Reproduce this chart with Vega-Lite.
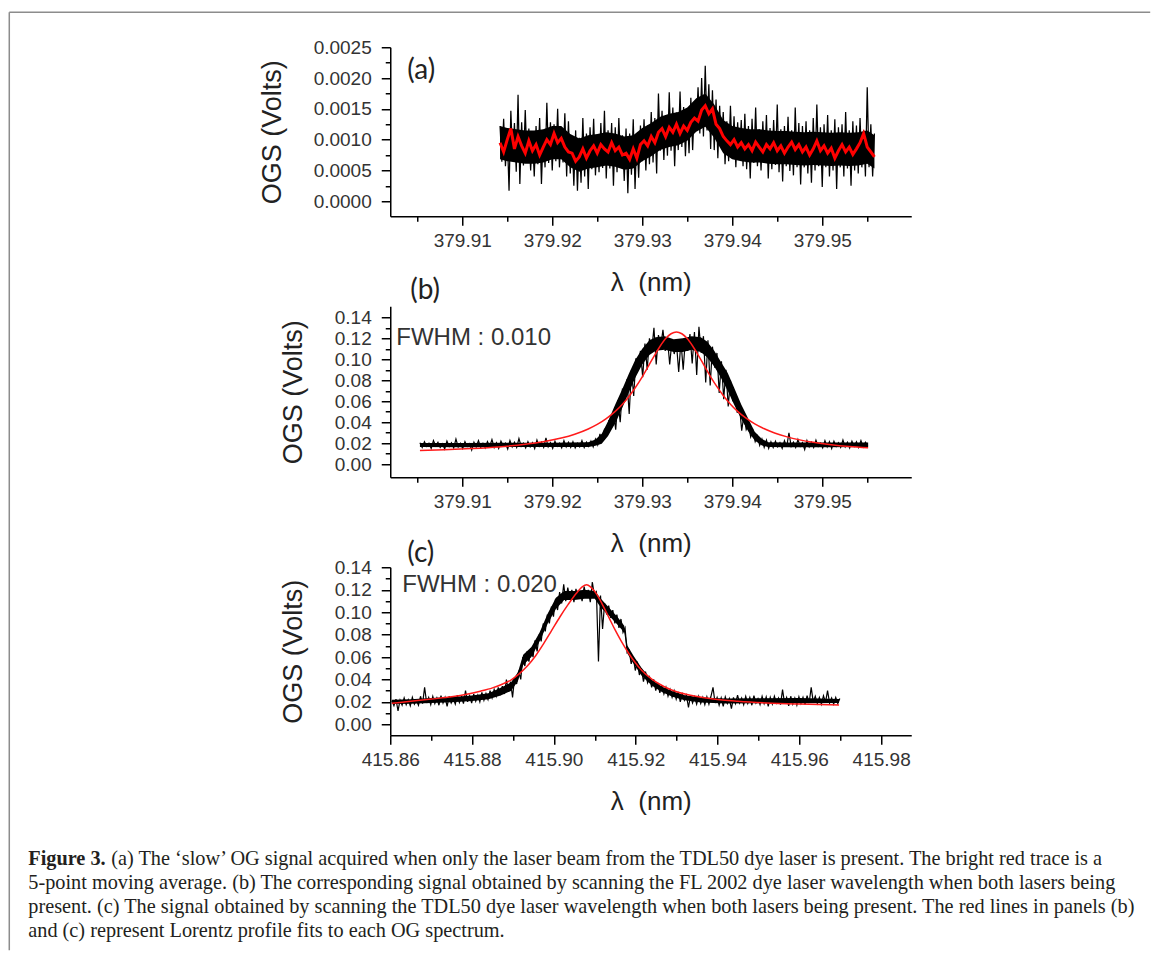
{
"$schema": "https://vega.github.io/schema/vega-lite/v6.json",
"usermeta": {"embedOptions": {"actions": false}},
"padding": {"left": 8.25, "top": 11.25, "right": 0, "bottom": 0},
"background": "white",
"bounds": "flush",
"spacing": 90,
"config": {
 "view": {"stroke": null},
 "axis": {"grid": false, "domainColor": "#000", "domainWidth": 1.5, "tickColor": "#000", "tickWidth": 1.5, "labelFont": "Liberation Sans", "labelFontSize": 19, "labelColor": "#333", "titleFont": "Liberation Sans", "titleFontSize": 27, "titleFontWeight": "normal", "titleColor": "#222", "labelFlush": false, "labelOverlap": false, "labelBound": false, "tickCount": 100},
 "axisX": {"labelPadding": 6, "titlePadding": 19, "titleFontSize": 26},
 "axisY": {"labelPadding": 10, "titlePadding": 27}
},
"datasets": {
"a_raw": [{"x":379.9142,"y":0.00122},{"x":379.9144,"y":0.00064},{"x":379.9146,"y":0.00134},{"x":379.9148,"y":0.00057},{"x":379.915,"y":0.0011},{"x":379.9152,"y":0.00017},{"x":379.9154,"y":0.00147},{"x":379.9156,"y":0.0007},{"x":379.9158,"y":0.00127},{"x":379.916,"y":0.00048},{"x":379.9162,"y":0.00173},{"x":379.9164,"y":0.00028},{"x":379.9166,"y":0.00128},{"x":379.9168,"y":0.00058},{"x":379.917,"y":0.00148},{"x":379.9172,"y":0.00063},{"x":379.9174,"y":0.00118},{"x":379.9176,"y":0.0005},{"x":379.9178,"y":0.00108},{"x":379.918,"y":0.0004},{"x":379.9182,"y":0.00122},{"x":379.9184,"y":0.0006},{"x":379.9186,"y":0.00135},{"x":379.9188,"y":0.00028},{"x":379.919,"y":0.00115},{"x":379.9192,"y":0.00055},{"x":379.9194,"y":0.0016},{"x":379.9196,"y":0.00062},{"x":379.9198,"y":0.00128},{"x":379.92,"y":0.0005},{"x":379.9202,"y":0.00125},{"x":379.9204,"y":0.00065},{"x":379.9206,"y":0.0015},{"x":379.9208,"y":0.00055},{"x":379.921,"y":0.00117},{"x":379.9212,"y":0.00063},{"x":379.9214,"y":0.00143},{"x":379.9216,"y":0.0004},{"x":379.9218,"y":0.0013},{"x":379.922,"y":0.00045},{"x":379.9222,"y":0.00105},{"x":379.9224,"y":0.00025},{"x":379.9226,"y":0.00115},{"x":379.9228,"y":0.00017},{"x":379.923,"y":0.00103},{"x":379.9232,"y":0.0003},{"x":379.9234,"y":0.00135},{"x":379.9236,"y":0.0004},{"x":379.9238,"y":0.0011},{"x":379.924,"y":0.0002},{"x":379.9242,"y":0.0012},{"x":379.9244,"y":0.00052},{"x":379.9246,"y":0.00134},{"x":379.9248,"y":0.00042},{"x":379.925,"y":0.00107},{"x":379.9252,"y":0.00047},{"x":379.9254,"y":0.00127},{"x":379.9256,"y":0.00054},{"x":379.9258,"y":0.00147},{"x":379.926,"y":0.00037},{"x":379.9262,"y":0.00115},{"x":379.9264,"y":0.00053},{"x":379.9266,"y":0.00127},{"x":379.9268,"y":0.00025},{"x":379.927,"y":0.0012},{"x":379.9272,"y":0.00047},{"x":379.9274,"y":0.00135},{"x":379.9276,"y":0.00055},{"x":379.9278,"y":0.00107},{"x":379.928,"y":0.00033},{"x":379.9282,"y":0.00118},{"x":379.9284,"y":0.00013},{"x":379.9286,"y":0.0011},{"x":379.9288,"y":0.00043},{"x":379.929,"y":0.00133},{"x":379.9292,"y":0.0002},{"x":379.9294,"y":0.00108},{"x":379.9296,"y":0.00038},{"x":379.9298,"y":0.00123},{"x":379.93,"y":0.00065},{"x":379.9302,"y":0.00133},{"x":379.9304,"y":0.0005},{"x":379.9306,"y":0.00123},{"x":379.9308,"y":0.0006},{"x":379.931,"y":0.00145},{"x":379.9312,"y":0.00063},{"x":379.9314,"y":0.00135},{"x":379.9316,"y":0.00045},{"x":379.9318,"y":0.00175},{"x":379.932,"y":0.00082},{"x":379.9322,"y":0.00147},{"x":379.9324,"y":0.00067},{"x":379.9326,"y":0.0014},{"x":379.9328,"y":0.00074},{"x":379.933,"y":0.00177},{"x":379.9332,"y":0.00082},{"x":379.9334,"y":0.00152},{"x":379.9336,"y":0.00057},{"x":379.9338,"y":0.00144},{"x":379.934,"y":0.00083},{"x":379.9342,"y":0.00178},{"x":379.9344,"y":0.00088},{"x":379.9346,"y":0.00153},{"x":379.9348,"y":0.00073},{"x":379.935,"y":0.00146},{"x":379.9352,"y":0.00078},{"x":379.9354,"y":0.00168},{"x":379.9356,"y":0.00083},{"x":379.9358,"y":0.00158},{"x":379.936,"y":0.00115},{"x":379.9362,"y":0.00185},{"x":379.9364,"y":0.0011},{"x":379.9366,"y":0.002},{"x":379.9368,"y":0.00105},{"x":379.937,"y":0.0022},{"x":379.9372,"y":0.00115},{"x":379.9374,"y":0.0019},{"x":379.9376,"y":0.00085},{"x":379.9378,"y":0.0018},{"x":379.938,"y":0.00083},{"x":379.9382,"y":0.00165},{"x":379.9384,"y":0.0007},{"x":379.9386,"y":0.00155},{"x":379.9388,"y":0.0009},{"x":379.939,"y":0.00145},{"x":379.9392,"y":0.0006},{"x":379.9394,"y":0.0013},{"x":379.9396,"y":0.00065},{"x":379.9398,"y":0.00155},{"x":379.94,"y":0.0007},{"x":379.9402,"y":0.00138},{"x":379.9404,"y":0.00055},{"x":379.9406,"y":0.00128},{"x":379.9408,"y":0.00068},{"x":379.941,"y":0.00132},{"x":379.9412,"y":0.00057},{"x":379.9414,"y":0.00142},{"x":379.9416,"y":0.00052},{"x":379.9418,"y":0.00122},{"x":379.942,"y":0.00037},{"x":379.9422,"y":0.00134},{"x":379.9424,"y":0.00062},{"x":379.9426,"y":0.00152},{"x":379.9428,"y":0.00057},{"x":379.943,"y":0.00117},{"x":379.9432,"y":0.0005},{"x":379.9434,"y":0.0013},{"x":379.9436,"y":0.00062},{"x":379.9438,"y":0.0014},{"x":379.944,"y":0.00037},{"x":379.9442,"y":0.00119},{"x":379.9444,"y":0.00052},{"x":379.9446,"y":0.00132},{"x":379.9448,"y":0.00059},{"x":379.945,"y":0.00157},{"x":379.9452,"y":0.00047},{"x":379.9454,"y":0.00117},{"x":379.9456,"y":0.00032},{"x":379.9458,"y":0.00122},{"x":379.946,"y":0.00057},{"x":379.9462,"y":0.00137},{"x":379.9464,"y":0.00049},{"x":379.9466,"y":0.00115},{"x":379.9468,"y":0.00042},{"x":379.947,"y":0.00152},{"x":379.9472,"y":0.00055},{"x":379.9474,"y":0.00127},{"x":379.9476,"y":0.00027},{"x":379.9478,"y":0.00122},{"x":379.948,"y":0.00055},{"x":379.9482,"y":0.0013},{"x":379.9484,"y":0.00045},{"x":379.9486,"y":0.00115},{"x":379.9488,"y":0.0003},{"x":379.949,"y":0.00135},{"x":379.9492,"y":0.0005},{"x":379.9494,"y":0.00157},{"x":379.9496,"y":0.00057},{"x":379.9498,"y":0.0012},{"x":379.95,"y":0.00023},{"x":379.9502,"y":0.00125},{"x":379.9504,"y":0.00055},{"x":379.9506,"y":0.0014},{"x":379.9508,"y":0.0004},{"x":379.951,"y":0.00115},{"x":379.9512,"y":0.0005},{"x":379.9514,"y":0.00133},{"x":379.9516,"y":0.0002},{"x":379.9518,"y":0.0012},{"x":379.952,"y":0.00055},{"x":379.9522,"y":0.00125},{"x":379.9524,"y":0.0004},{"x":379.9526,"y":0.00145},{"x":379.9528,"y":0.00053},{"x":379.953,"y":0.00115},{"x":379.9532,"y":0.00025},{"x":379.9534,"y":0.0013},{"x":379.9536,"y":0.0005},{"x":379.9538,"y":0.00123},{"x":379.954,"y":0.00045},{"x":379.9542,"y":0.00135},{"x":379.9544,"y":0.00055},{"x":379.9546,"y":0.00115},{"x":379.9548,"y":0.0004},{"x":379.955,"y":0.00185},{"x":379.9552,"y":0.00055},{"x":379.9554,"y":0.00125},{"x":379.9556,"y":0.0004},{"x":379.9558,"y":0.0011}],
"a_core": [{"x":379.9142,"lo":0.00068,"hi":0.00122},{"x":379.915,"lo":0.00065,"hi":0.00119},{"x":379.916,"lo":0.00063,"hi":0.00117},{"x":379.917,"lo":0.00061,"hi":0.00115},{"x":379.918,"lo":0.00061,"hi":0.00115},{"x":379.919,"lo":0.00063,"hi":0.00117},{"x":379.92,"lo":0.00068,"hi":0.00122},{"x":379.921,"lo":0.00068,"hi":0.00122},{"x":379.922,"lo":0.00055,"hi":0.00109},{"x":379.923,"lo":0.00048,"hi":0.00102},{"x":379.924,"lo":0.00053,"hi":0.00107},{"x":379.925,"lo":0.00055,"hi":0.00109},{"x":379.926,"lo":0.00058,"hi":0.00112},{"x":379.927,"lo":0.00056,"hi":0.0011},{"x":379.928,"lo":0.00051,"hi":0.00105},{"x":379.929,"lo":0.00053,"hi":0.00107},{"x":379.93,"lo":0.00065,"hi":0.00119},{"x":379.931,"lo":0.00073,"hi":0.00127},{"x":379.932,"lo":0.00083,"hi":0.00137},{"x":379.933,"lo":0.00088,"hi":0.00142},{"x":379.934,"lo":0.00091,"hi":0.00145},{"x":379.935,"lo":0.00098,"hi":0.00152},{"x":379.936,"lo":0.00113,"hi":0.00167},{"x":379.937,"lo":0.00121,"hi":0.00175},{"x":379.938,"lo":0.00103,"hi":0.00157},{"x":379.939,"lo":0.00078,"hi":0.00132},{"x":379.94,"lo":0.00068,"hi":0.00122},{"x":379.941,"lo":0.00065,"hi":0.00119},{"x":379.942,"lo":0.00063,"hi":0.00117},{"x":379.943,"lo":0.00063,"hi":0.00117},{"x":379.944,"lo":0.00061,"hi":0.00115},{"x":379.945,"lo":0.0006,"hi":0.00114},{"x":379.946,"lo":0.0006,"hi":0.00114},{"x":379.947,"lo":0.00059,"hi":0.00113},{"x":379.948,"lo":0.00058,"hi":0.00112},{"x":379.949,"lo":0.00059,"hi":0.00113},{"x":379.95,"lo":0.00058,"hi":0.00112},{"x":379.951,"lo":0.00057,"hi":0.00111},{"x":379.952,"lo":0.00058,"hi":0.00112},{"x":379.953,"lo":0.00057,"hi":0.00111},{"x":379.954,"lo":0.00058,"hi":0.00112},{"x":379.955,"lo":0.00061,"hi":0.00115},{"x":379.9558,"lo":0.00053,"hi":0.00107}],
"a_avg": [{"x":379.9142,"y":0.00095},{"x":379.9146,"y":0.0008},{"x":379.915,"y":0.001},{"x":379.9154,"y":0.00118},{"x":379.9158,"y":0.00085},{"x":379.9162,"y":0.00105},{"x":379.9166,"y":0.0009},{"x":379.917,"y":0.00078},{"x":379.9174,"y":0.00098},{"x":379.9178,"y":0.00082},{"x":379.9182,"y":0.00092},{"x":379.9186,"y":0.00075},{"x":379.919,"y":0.00088},{"x":379.9194,"y":0.001},{"x":379.9198,"y":0.00092},{"x":379.9202,"y":0.0011},{"x":379.9206,"y":0.00095},{"x":379.921,"y":0.00102},{"x":379.9214,"y":0.00088},{"x":379.9218,"y":0.0008},{"x":379.9222,"y":0.00078},{"x":379.9226,"y":0.00065},{"x":379.923,"y":0.00072},{"x":379.9234,"y":0.00085},{"x":379.9238,"y":0.0007},{"x":379.9242,"y":0.00082},{"x":379.9246,"y":0.0009},{"x":379.925,"y":0.00078},{"x":379.9254,"y":0.00092},{"x":379.9258,"y":0.00085},{"x":379.9262,"y":0.0008},{"x":379.9266,"y":0.00095},{"x":379.927,"y":0.00082},{"x":379.9274,"y":0.00088},{"x":379.9278,"y":0.00075},{"x":379.9282,"y":0.00078},{"x":379.9286,"y":0.00068},{"x":379.929,"y":0.00085},{"x":379.9294,"y":0.0007},{"x":379.9298,"y":0.00092},{"x":379.9302,"y":0.00098},{"x":379.9306,"y":0.0009},{"x":379.931,"y":0.00105},{"x":379.9314,"y":0.00095},{"x":379.9318,"y":0.00112},{"x":379.9322,"y":0.00118},{"x":379.9326,"y":0.00105},{"x":379.933,"y":0.0012},{"x":379.9334,"y":0.00112},{"x":379.9338,"y":0.00125},{"x":379.9342,"y":0.0011},{"x":379.9346,"y":0.00122},{"x":379.935,"y":0.00115},{"x":379.9354,"y":0.00128},{"x":379.9358,"y":0.00135},{"x":379.9362,"y":0.0013},{"x":379.9366,"y":0.00148},{"x":379.937,"y":0.00155},{"x":379.9374,"y":0.00142},{"x":379.9378,"y":0.0015},{"x":379.9382,"y":0.00125},{"x":379.9386,"y":0.00118},{"x":379.939,"y":0.00105},{"x":379.9394,"y":0.00098},{"x":379.9398,"y":0.00092},{"x":379.9402,"y":0.001},{"x":379.9406,"y":0.00088},{"x":379.941,"y":0.00095},{"x":379.9414,"y":0.00085},{"x":379.9418,"y":0.00092},{"x":379.9422,"y":0.00082},{"x":379.9426,"y":0.00096},{"x":379.943,"y":0.00088},{"x":379.9434,"y":0.0008},{"x":379.9438,"y":0.00092},{"x":379.9442,"y":0.00085},{"x":379.9446,"y":0.00095},{"x":379.945,"y":0.00082},{"x":379.9454,"y":0.0009},{"x":379.9458,"y":0.00078},{"x":379.9462,"y":0.00088},{"x":379.9466,"y":0.00096},{"x":379.947,"y":0.00084},{"x":379.9474,"y":0.00092},{"x":379.9478,"y":0.0008},{"x":379.9482,"y":0.00088},{"x":379.9486,"y":0.00075},{"x":379.949,"y":0.00085},{"x":379.9494,"y":0.00098},{"x":379.9498,"y":0.00082},{"x":379.9502,"y":0.0009},{"x":379.9506,"y":0.00078},{"x":379.951,"y":0.00086},{"x":379.9514,"y":0.0007},{"x":379.9518,"y":0.00082},{"x":379.9522,"y":0.00092},{"x":379.9526,"y":0.0008},{"x":379.953,"y":0.00088},{"x":379.9534,"y":0.00076},{"x":379.9538,"y":0.00085},{"x":379.9542,"y":0.00095},{"x":379.9546,"y":0.0011},{"x":379.955,"y":0.00088},{"x":379.9554,"y":0.0008},{"x":379.9558,"y":0.00072}],
"b_raw": [{"x":379.9053,"y":0.0205},{"x":379.90555,"y":0.016},{"x":379.9058,"y":0.0215},{"x":379.90605,"y":0.017},{"x":379.9063,"y":0.02},{"x":379.90655,"y":0.015},{"x":379.9068,"y":0.0225},{"x":379.90705,"y":0.0175},{"x":379.9073,"y":0.021},{"x":379.90755,"y":0.016},{"x":379.9078,"y":0.0195},{"x":379.90805,"y":0.0145},{"x":379.9083,"y":0.022},{"x":379.90855,"y":0.017},{"x":379.9088,"y":0.0205},{"x":379.90905,"y":0.0155},{"x":379.9093,"y":0.024},{"x":379.90955,"y":0.0165},{"x":379.9098,"y":0.02},{"x":379.91005,"y":0.015},{"x":379.9103,"y":0.0215},{"x":379.91055,"y":0.017},{"x":379.9108,"y":0.0195},{"x":379.91105,"y":0.0135},{"x":379.9113,"y":0.021},{"x":379.91155,"y":0.0165},{"x":379.9118,"y":0.0225},{"x":379.91205,"y":0.016},{"x":379.9123,"y":0.02},{"x":379.91255,"y":0.0155},{"x":379.9128,"y":0.0215},{"x":379.91305,"y":0.017},{"x":379.9133,"y":0.0235},{"x":379.91355,"y":0.016},{"x":379.9138,"y":0.0205},{"x":379.91405,"y":0.015},{"x":379.9143,"y":0.022},{"x":379.91455,"y":0.0175},{"x":379.9148,"y":0.02},{"x":379.91505,"y":0.0145},{"x":379.9153,"y":0.0225},{"x":379.91555,"y":0.0165},{"x":379.9158,"y":0.021},{"x":379.91605,"y":0.016},{"x":379.9163,"y":0.0245},{"x":379.91655,"y":0.017},{"x":379.9168,"y":0.02},{"x":379.91705,"y":0.0155},{"x":379.9173,"y":0.0215},{"x":379.91755,"y":0.0165},{"x":379.9178,"y":0.0205},{"x":379.91805,"y":0.015},{"x":379.9183,"y":0.023},{"x":379.91855,"y":0.017},{"x":379.9188,"y":0.021},{"x":379.91905,"y":0.016},{"x":379.9193,"y":0.025},{"x":379.91955,"y":0.0165},{"x":379.9198,"y":0.0205},{"x":379.92005,"y":0.015},{"x":379.9203,"y":0.022},{"x":379.92055,"y":0.017},{"x":379.9208,"y":0.02},{"x":379.92105,"y":0.0155},{"x":379.9213,"y":0.0225},{"x":379.92155,"y":0.0165},{"x":379.9218,"y":0.021},{"x":379.92205,"y":0.016},{"x":379.9223,"y":0.0215},{"x":379.92255,"y":0.0155},{"x":379.9228,"y":0.02},{"x":379.92305,"y":0.0165},{"x":379.9233,"y":0.0225},{"x":379.92355,"y":0.016},{"x":379.9238,"y":0.021},{"x":379.92405,"y":0.017},{"x":379.9243,"y":0.022},{"x":379.92455,"y":0.0165},{"x":379.9248,"y":0.024},{"x":379.92505,"y":0.0185},{"x":379.9253,"y":0.029},{"x":379.92555,"y":0.0215},{"x":379.9258,"y":0.033},{"x":379.92605,"y":0.03},{"x":379.9263,"y":0.042},{"x":379.92655,"y":0.034},{"x":379.9268,"y":0.05},{"x":379.92705,"y":0.033},{"x":379.9273,"y":0.061},{"x":379.92755,"y":0.04},{"x":379.9278,"y":0.072},{"x":379.92805,"y":0.06},{"x":379.9283,"y":0.081},{"x":379.92855,"y":0.048},{"x":379.9288,"y":0.09},{"x":379.92905,"y":0.065},{"x":379.9293,"y":0.101},{"x":379.92955,"y":0.092},{"x":379.9298,"y":0.108},{"x":379.93005,"y":0.083},{"x":379.9303,"y":0.115},{"x":379.93055,"y":0.09},{"x":379.9308,"y":0.12},{"x":379.93105,"y":0.108},{"x":379.9313,"y":0.13},{"x":379.93155,"y":0.095},{"x":379.9318,"y":0.123},{"x":379.93205,"y":0.112},{"x":379.9323,"y":0.128},{"x":379.93255,"y":0.108},{"x":379.9328,"y":0.12},{"x":379.93305,"y":0.095},{"x":379.9333,"y":0.118},{"x":379.93355,"y":0.105},{"x":379.9338,"y":0.115},{"x":379.93405,"y":0.088},{"x":379.9343,"y":0.117},{"x":379.93455,"y":0.09},{"x":379.9348,"y":0.12},{"x":379.93505,"y":0.108},{"x":379.9353,"y":0.124},{"x":379.93555,"y":0.096},{"x":379.9358,"y":0.126},{"x":379.93605,"y":0.085},{"x":379.9363,"y":0.131},{"x":379.93655,"y":0.106},{"x":379.9368,"y":0.122},{"x":379.93705,"y":0.078},{"x":379.9373,"y":0.118},{"x":379.93755,"y":0.075},{"x":379.9378,"y":0.112},{"x":379.93805,"y":0.092},{"x":379.9383,"y":0.106},{"x":379.93855,"y":0.068},{"x":379.9388,"y":0.098},{"x":379.93905,"y":0.062},{"x":379.9393,"y":0.09},{"x":379.93955,"y":0.055},{"x":379.9398,"y":0.08},{"x":379.94005,"y":0.06},{"x":379.9403,"y":0.068},{"x":379.94055,"y":0.049},{"x":379.9408,"y":0.056},{"x":379.94105,"y":0.032},{"x":379.9413,"y":0.047},{"x":379.94155,"y":0.033},{"x":379.9418,"y":0.038},{"x":379.94205,"y":0.026},{"x":379.9423,"y":0.032},{"x":379.94255,"y":0.0215},{"x":379.9428,"y":0.027},{"x":379.94305,"y":0.018},{"x":379.9433,"y":0.024},{"x":379.94355,"y":0.016},{"x":379.9438,"y":0.023},{"x":379.94405,"y":0.015},{"x":379.9443,"y":0.0215},{"x":379.94455,"y":0.016},{"x":379.9448,"y":0.022},{"x":379.94505,"y":0.0165},{"x":379.9453,"y":0.0205},{"x":379.94555,"y":0.015},{"x":379.9458,"y":0.0225},{"x":379.94605,"y":0.0165},{"x":379.9463,"y":0.03},{"x":379.94655,"y":0.017},{"x":379.9468,"y":0.021},{"x":379.94705,"y":0.016},{"x":379.9473,"y":0.0235},{"x":379.94755,"y":0.017},{"x":379.9478,"y":0.0205},{"x":379.94805,"y":0.014},{"x":379.9483,"y":0.0225},{"x":379.94855,"y":0.0165},{"x":379.9488,"y":0.021},{"x":379.94905,"y":0.016},{"x":379.9493,"y":0.023},{"x":379.94955,"y":0.017},{"x":379.9498,"y":0.02},{"x":379.95005,"y":0.0155},{"x":379.9503,"y":0.0225},{"x":379.95055,"y":0.0165},{"x":379.9508,"y":0.0215},{"x":379.95105,"y":0.015},{"x":379.9513,"y":0.022},{"x":379.95155,"y":0.017},{"x":379.9518,"y":0.0205},{"x":379.95205,"y":0.016},{"x":379.9523,"y":0.023},{"x":379.95255,"y":0.0165},{"x":379.9528,"y":0.021},{"x":379.95305,"y":0.0155},{"x":379.9533,"y":0.022},{"x":379.95355,"y":0.017},{"x":379.9538,"y":0.0215},{"x":379.95405,"y":0.016},{"x":379.9543,"y":0.0225},{"x":379.95455,"y":0.0165},{"x":379.9548,"y":0.021},{"x":379.95505,"y":0.0175}],
"b_core": [{"x":379.9053,"lo":0.0163,"hi":0.0203},{"x":379.91,"lo":0.0162,"hi":0.0203},{"x":379.915,"lo":0.0163,"hi":0.0205},{"x":379.92,"lo":0.0163,"hi":0.0205},{"x":379.924,"lo":0.0165,"hi":0.021},{"x":379.9248,"lo":0.0175,"hi":0.0235},{"x":379.9255,"lo":0.0195,"hi":0.029},{"x":379.9262,"lo":0.027,"hi":0.041},{"x":379.927,"lo":0.039,"hi":0.057},{"x":379.9278,"lo":0.054,"hi":0.072},{"x":379.9285,"lo":0.068,"hi":0.086},{"x":379.9292,"lo":0.082,"hi":0.099},{"x":379.93,"lo":0.095,"hi":0.11},{"x":379.9308,"lo":0.104,"hi":0.118},{"x":379.9315,"lo":0.108,"hi":0.121},{"x":379.9325,"lo":0.109,"hi":0.122},{"x":379.9335,"lo":0.107,"hi":0.119},{"x":379.9345,"lo":0.107,"hi":0.12},{"x":379.9355,"lo":0.109,"hi":0.122},{"x":379.9365,"lo":0.107,"hi":0.121},{"x":379.9372,"lo":0.102,"hi":0.117},{"x":379.938,"lo":0.093,"hi":0.108},{"x":379.9387,"lo":0.083,"hi":0.098},{"x":379.9395,"lo":0.07,"hi":0.087},{"x":379.9402,"lo":0.057,"hi":0.073},{"x":379.941,"lo":0.043,"hi":0.057},{"x":379.9418,"lo":0.031,"hi":0.043},{"x":379.9425,"lo":0.0225,"hi":0.031},{"x":379.9433,"lo":0.0178,"hi":0.024},{"x":379.944,"lo":0.0164,"hi":0.021},{"x":379.946,"lo":0.0162,"hi":0.0207},{"x":379.95,"lo":0.0162,"hi":0.0206},{"x":379.9551,"lo":0.0164,"hi":0.0207}],
"b_fit": [{"x":379.9053,"y":0.013},{"x":379.908,"y":0.0137},{"x":379.911,"y":0.0149},{"x":379.914,"y":0.0165},{"x":379.917,"y":0.019},{"x":379.919,"y":0.0214},{"x":379.921,"y":0.0249},{"x":379.9225,"y":0.0286},{"x":379.924,"y":0.0336},{"x":379.925,"y":0.0379},{"x":379.926,"y":0.0435},{"x":379.927,"y":0.0504},{"x":379.9278,"y":0.0572},{"x":379.9285,"y":0.0643},{"x":379.9292,"y":0.0726},{"x":379.93,"y":0.0833},{"x":379.9307,"y":0.0937},{"x":379.9314,"y":0.1042},{"x":379.932,"y":0.1126},{"x":379.9326,"y":0.1197},{"x":379.9332,"y":0.1243},{"x":379.9338,"y":0.126},{"x":379.9344,"y":0.1243},{"x":379.935,"y":0.1197},{"x":379.9356,"y":0.1126},{"x":379.9362,"y":0.1042},{"x":379.9369,"y":0.0937},{"x":379.9376,"y":0.0833},{"x":379.9383,"y":0.0739},{"x":379.939,"y":0.0655},{"x":379.9398,"y":0.0572},{"x":379.9406,"y":0.0504},{"x":379.9415,"y":0.0441},{"x":379.9425,"y":0.0384},{"x":379.9435,"y":0.034},{"x":379.9447,"y":0.0298},{"x":379.946,"y":0.0263},{"x":379.9475,"y":0.0232},{"x":379.949,"y":0.0209},{"x":379.951,"y":0.0186},{"x":379.953,"y":0.0169},{"x":379.9551,"y":0.0156}],
"c_raw": [{"x":415.8604,"y":0.021},{"x":415.8609,"y":0.0165},{"x":415.8614,"y":0.0225},{"x":415.8619,"y":0.012},{"x":415.8624,"y":0.0215},{"x":415.8629,"y":0.017},{"x":415.8634,"y":0.0235},{"x":415.8639,"y":0.0175},{"x":415.8644,"y":0.022},{"x":415.8649,"y":0.0165},{"x":415.8654,"y":0.024},{"x":415.8659,"y":0.018},{"x":415.8664,"y":0.0215},{"x":415.8669,"y":0.017},{"x":415.8674,"y":0.025},{"x":415.8679,"y":0.0185},{"x":415.8684,"y":0.033},{"x":415.8689,"y":0.019},{"x":415.8694,"y":0.024},{"x":415.8699,"y":0.0175},{"x":415.8704,"y":0.025},{"x":415.8709,"y":0.0185},{"x":415.8714,"y":0.0235},{"x":415.8719,"y":0.017},{"x":415.8724,"y":0.0255},{"x":415.8729,"y":0.019},{"x":415.8734,"y":0.024},{"x":415.8739,"y":0.016},{"x":415.8744,"y":0.025},{"x":415.8749,"y":0.019},{"x":415.8754,"y":0.023},{"x":415.8759,"y":0.018},{"x":415.8764,"y":0.026},{"x":415.8769,"y":0.0195},{"x":415.8774,"y":0.0245},{"x":415.8779,"y":0.0185},{"x":415.8784,"y":0.03},{"x":415.8789,"y":0.02},{"x":415.8794,"y":0.0255},{"x":415.8799,"y":0.019},{"x":415.8804,"y":0.027},{"x":415.8809,"y":0.0205},{"x":415.8814,"y":0.026},{"x":415.8819,"y":0.02},{"x":415.8824,"y":0.0285},{"x":415.8829,"y":0.0215},{"x":415.8834,"y":0.0275},{"x":415.8839,"y":0.022},{"x":415.8844,"y":0.03},{"x":415.8849,"y":0.0235},{"x":415.8854,"y":0.031},{"x":415.8859,"y":0.025},{"x":415.8864,"y":0.033},{"x":415.8869,"y":0.026},{"x":415.8874,"y":0.034},{"x":415.8879,"y":0.027},{"x":415.8884,"y":0.04},{"x":415.8889,"y":0.029},{"x":415.8894,"y":0.038},{"x":415.8899,"y":0.024},{"x":415.8904,"y":0.042},{"x":415.8909,"y":0.036},{"x":415.8914,"y":0.048},{"x":415.8919,"y":0.04},{"x":415.8924,"y":0.06},{"x":415.8929,"y":0.052},{"x":415.8934,"y":0.065},{"x":415.8939,"y":0.056},{"x":415.8944,"y":0.068},{"x":415.8949,"y":0.06},{"x":415.8954,"y":0.075},{"x":415.8959,"y":0.065},{"x":415.8964,"y":0.08},{"x":415.8969,"y":0.074},{"x":415.8974,"y":0.09},{"x":415.8979,"y":0.083},{"x":415.8984,"y":0.098},{"x":415.8989,"y":0.09},{"x":415.8994,"y":0.105},{"x":415.8999,"y":0.096},{"x":415.9004,"y":0.112},{"x":415.9009,"y":0.102},{"x":415.9014,"y":0.118},{"x":415.9019,"y":0.108},{"x":415.9024,"y":0.125},{"x":415.9029,"y":0.11},{"x":415.9034,"y":0.122},{"x":415.9039,"y":0.112},{"x":415.9044,"y":0.12},{"x":415.9049,"y":0.109},{"x":415.9054,"y":0.121},{"x":415.9059,"y":0.112},{"x":415.9064,"y":0.119},{"x":415.9069,"y":0.11},{"x":415.9074,"y":0.123},{"x":415.9079,"y":0.113},{"x":415.9084,"y":0.12},{"x":415.9089,"y":0.109},{"x":415.9094,"y":0.127},{"x":415.9099,"y":0.115},{"x":415.9104,"y":0.118},{"x":415.9109,"y":0.056},{"x":415.9114,"y":0.115},{"x":415.9119,"y":0.085},{"x":415.9124,"y":0.108},{"x":415.9129,"y":0.098},{"x":415.9134,"y":0.106},{"x":415.9139,"y":0.095},{"x":415.9144,"y":0.102},{"x":415.9149,"y":0.09},{"x":415.9154,"y":0.098},{"x":415.9159,"y":0.086},{"x":415.9164,"y":0.094},{"x":415.9169,"y":0.082},{"x":415.9174,"y":0.086},{"x":415.9179,"y":0.064},{"x":415.9184,"y":0.066},{"x":415.9189,"y":0.054},{"x":415.9194,"y":0.06},{"x":415.9199,"y":0.048},{"x":415.9204,"y":0.056},{"x":415.9209,"y":0.044},{"x":415.9214,"y":0.05},{"x":415.9219,"y":0.038},{"x":415.9224,"y":0.047},{"x":415.9229,"y":0.037},{"x":415.9234,"y":0.042},{"x":415.9239,"y":0.033},{"x":415.9244,"y":0.04},{"x":415.9249,"y":0.03},{"x":415.9254,"y":0.037},{"x":415.9259,"y":0.028},{"x":415.9264,"y":0.035},{"x":415.9269,"y":0.027},{"x":415.9274,"y":0.033},{"x":415.9279,"y":0.025},{"x":415.9284,"y":0.031},{"x":415.9289,"y":0.024},{"x":415.9294,"y":0.03},{"x":415.9299,"y":0.0225},{"x":415.9304,"y":0.029},{"x":415.9309,"y":0.02},{"x":415.9314,"y":0.027},{"x":415.9319,"y":0.0215},{"x":415.9324,"y":0.026},{"x":415.9329,"y":0.015},{"x":415.9334,"y":0.0255},{"x":415.9339,"y":0.019},{"x":415.9344,"y":0.0245},{"x":415.9349,"y":0.018},{"x":415.9354,"y":0.025},{"x":415.9359,"y":0.0185},{"x":415.9364,"y":0.024},{"x":415.9369,"y":0.0175},{"x":415.9374,"y":0.0245},{"x":415.9379,"y":0.018},{"x":415.9384,"y":0.025},{"x":415.9389,"y":0.033},{"x":415.9394,"y":0.019},{"x":415.9399,"y":0.024},{"x":415.9404,"y":0.017},{"x":415.9409,"y":0.0235},{"x":415.9414,"y":0.016},{"x":415.9419,"y":0.0245},{"x":415.9424,"y":0.0185},{"x":415.9429,"y":0.023},{"x":415.9434,"y":0.014},{"x":415.9439,"y":0.024},{"x":415.9444,"y":0.0185},{"x":415.9449,"y":0.026},{"x":415.9454,"y":0.019},{"x":415.9459,"y":0.0235},{"x":415.9464,"y":0.0175},{"x":415.9469,"y":0.025},{"x":415.9474,"y":0.0185},{"x":415.9479,"y":0.024},{"x":415.9484,"y":0.017},{"x":415.9489,"y":0.0255},{"x":415.9494,"y":0.019},{"x":415.9499,"y":0.023},{"x":415.9504,"y":0.0175},{"x":415.9509,"y":0.025},{"x":415.9514,"y":0.0185},{"x":415.9519,"y":0.0245},{"x":415.9524,"y":0.016},{"x":415.9529,"y":0.024},{"x":415.9534,"y":0.018},{"x":415.9539,"y":0.025},{"x":415.9544,"y":0.019},{"x":415.9549,"y":0.0235},{"x":415.9554,"y":0.0175},{"x":415.9559,"y":0.031},{"x":415.9564,"y":0.0185},{"x":415.9569,"y":0.024},{"x":415.9574,"y":0.0165},{"x":415.9579,"y":0.025},{"x":415.9584,"y":0.018},{"x":415.9589,"y":0.0235},{"x":415.9594,"y":0.017},{"x":415.9599,"y":0.0245},{"x":415.9604,"y":0.0185},{"x":415.9609,"y":0.024},{"x":415.9614,"y":0.0175},{"x":415.9619,"y":0.0255},{"x":415.9624,"y":0.019},{"x":415.9629,"y":0.033},{"x":415.9634,"y":0.02},{"x":415.9639,"y":0.025},{"x":415.9644,"y":0.0185},{"x":415.9649,"y":0.024},{"x":415.9654,"y":0.018},{"x":415.9659,"y":0.0255},{"x":415.9664,"y":0.0195},{"x":415.9669,"y":0.03},{"x":415.9674,"y":0.019},{"x":415.9679,"y":0.0235},{"x":415.9684,"y":0.018},{"x":415.9689,"y":0.024},{"x":415.9694,"y":0.0185},{"x":415.9699,"y":0.023}],
"c_core": [{"x":415.8604,"lo":0.018,"hi":0.022},{"x":415.865,"lo":0.0183,"hi":0.0224},{"x":415.87,"lo":0.019,"hi":0.0235},{"x":415.875,"lo":0.0197,"hi":0.0243},{"x":415.88,"lo":0.0207,"hi":0.0256},{"x":415.884,"lo":0.0224,"hi":0.0278},{"x":415.887,"lo":0.0256,"hi":0.0325},{"x":415.8895,"lo":0.0298,"hi":0.0374},{"x":415.8912,"lo":0.0385,"hi":0.0465},{"x":415.8925,"lo":0.053,"hi":0.062},{"x":415.8945,"lo":0.06,"hi":0.069},{"x":415.8965,"lo":0.074,"hi":0.082},{"x":415.8985,"lo":0.09,"hi":0.099},{"x":415.9005,"lo":0.103,"hi":0.113},{"x":415.9025,"lo":0.111,"hi":0.119},{"x":415.905,"lo":0.111,"hi":0.119},{"x":415.9075,"lo":0.112,"hi":0.12},{"x":415.91,"lo":0.112,"hi":0.119},{"x":415.9115,"lo":0.104,"hi":0.112},{"x":415.9135,"lo":0.097,"hi":0.104},{"x":415.9155,"lo":0.089,"hi":0.096},{"x":415.9172,"lo":0.082,"hi":0.088},{"x":415.918,"lo":0.063,"hi":0.07},{"x":415.9195,"lo":0.054,"hi":0.061},{"x":415.9215,"lo":0.043,"hi":0.05},{"x":415.924,"lo":0.0345,"hi":0.0395},{"x":415.9265,"lo":0.0285,"hi":0.0335},{"x":415.929,"lo":0.0245,"hi":0.0295},{"x":415.932,"lo":0.0215,"hi":0.026},{"x":415.936,"lo":0.0195,"hi":0.0238},{"x":415.942,"lo":0.0186,"hi":0.023},{"x":415.95,"lo":0.0188,"hi":0.0232},{"x":415.96,"lo":0.0188,"hi":0.0234},{"x":415.9697,"lo":0.019,"hi":0.0225}],
"c_fit": [{"x":415.8604,"y":0.0187},{"x":415.865,"y":0.0205},{"x":415.87,"y":0.0225},{"x":415.875,"y":0.0245},{"x":415.879,"y":0.027},{"x":415.882,"y":0.0295},{"x":415.885,"y":0.0325},{"x":415.8875,"y":0.036},{"x":415.8895,"y":0.0395},{"x":415.8915,"y":0.045},{"x":415.8935,"y":0.052},{"x":415.8955,"y":0.061},{"x":415.8975,"y":0.072},{"x":415.8995,"y":0.084},{"x":415.9015,"y":0.096},{"x":415.9035,"y":0.107},{"x":415.9055,"y":0.117},{"x":415.907,"y":0.123},{"x":415.908,"y":0.1245},{"x":415.909,"y":0.1225},{"x":415.9105,"y":0.116},{"x":415.912,"y":0.106},{"x":415.9135,"y":0.095},{"x":415.915,"y":0.084},{"x":415.9165,"y":0.074},{"x":415.918,"y":0.065},{"x":415.9195,"y":0.057},{"x":415.9215,"y":0.048},{"x":415.924,"y":0.04},{"x":415.927,"y":0.0335},{"x":415.93,"y":0.029},{"x":415.934,"y":0.0255},{"x":415.939,"y":0.0225},{"x":415.945,"y":0.0205},{"x":415.952,"y":0.019},{"x":415.96,"y":0.018},{"x":415.9697,"y":0.0172}],
"caption": [{"line":1,"part":"head","text":"Figure 3."},{"line":1,"part":"body","text":"(a) The ‘slow’ OG signal acquired when only the laser beam from the TDL50 dye laser is present. The bright red trace is a"},{"line":2,"part":"body","text":"5-point moving average. (b) The corresponding signal obtained by scanning the FL 2002 dye laser wavelength when both lasers being"},{"line":3,"part":"body","text":"present. (c) The signal obtained by scanning the TDL50 dye laser wavelength when both lasers being present. The red lines in panels (b)"},{"line":4,"part":"body","text":"and (c) represent Lorentz profile fits to each OG spectrum."}]
},
"vconcat": [
{
 "width": 521, "height": 169,
 "layer": [
  {"data": {"name": "a_raw"}, "mark": {"type": "line", "color": "#000", "strokeWidth": 1.25},
   "encoding": {
    "x": {"field": "x", "type": "quantitative", "scale": {"domain": [379.902, 379.95989], "nice": false, "zero": false},
      "axis": {"title": "λ\u00a0\u00a0(nm)", "labelOverlap": false, "tickCount": 100, "values": [379.905,379.91,379.915,379.92,379.925,379.93,379.935,379.94,379.945,379.95,379.955],
        "tickSize": {"condition": {"test": "abs(datum.value*100-round(datum.value*100))<0.01", "value": 9}, "value": 5},
        "labelExpr": "abs(datum.value*100-round(datum.value*100))<0.01 ? format(datum.value,'.2f') : ''"}},
    "y": {"field": "y", "type": "quantitative", "scale": {"domain": [-0.000244, 0.0025], "nice": false, "zero": false},
      "axis": {"title": "OGS (Volts)", "labelOverlap": false, "tickCount": 100, "values": [0,0.00025,0.0005,0.00075,0.001,0.00125,0.0015,0.00175,0.002,0.00225,0.0025],
        "tickSize": {"condition": {"test": "abs(datum.value*2000-round(datum.value*2000))<0.01", "value": 9}, "value": 5},
        "labelExpr": "abs(datum.value*2000-round(datum.value*2000))<0.01 ? format(datum.value,'.4f') : ''"}}
   }},
  {"data": {"name": "a_core"}, "mark": {"type": "area", "color": "#000", "opacity": 1},
   "encoding": {"x": {"field": "x", "type": "quantitative"}, "y": {"field": "lo", "type": "quantitative"}, "y2": {"field": "hi"}}},
  {"data": {"name": "a_avg"}, "mark": {"type": "line", "color": "#ff0000", "strokeWidth": 3},
   "encoding": {"x": {"field": "x", "type": "quantitative"}, "y": {"field": "y", "type": "quantitative"}}},
  {"data": {"values": [{"x": 379.90389, "y": 0.00198, "t": "(a)"}]},
   "mark": {"type": "text", "align": "left", "baseline": "alphabetic", "font": "Lato", "fontSize": 28, "color": "#222"},
   "encoding": {"x": {"field": "x", "type": "quantitative"}, "y": {"field": "y", "type": "quantitative"}, "text": {"field": "t"}}},
  {"data": {"values": [{}]}, "mark": {"type": "rule", "color": "#8c8c8c", "strokeWidth": 1.5},
   "encoding": {"x": {"datum": 379.85967, "type": "quantitative"}, "y": {"datum": 0.0030677, "type": "quantitative"}, "y2": {"datum": -0.01216}}},
  {"data": {"values": [{}]}, "mark": {"type": "rule", "color": "#8c8c8c", "strokeWidth": 1.5},
   "encoding": {"x": {"datum": 379.85967, "type": "quantitative"}, "x2": {"datum": 379.98644}, "y": {"datum": 0.0030677, "type": "quantitative"}}}
 ]
},
{
 "width": 521, "height": 171,
 "layer": [
  {"data": {"name": "b_raw"}, "mark": {"type": "line", "color": "#000", "strokeWidth": 1.2},
   "encoding": {
    "x": {"field": "x", "type": "quantitative", "scale": {"domain": [379.902, 379.95989], "nice": false, "zero": false},
      "axis": {"title": "λ\u00a0\u00a0(nm)", "labelOverlap": false, "tickCount": 100, "values": [379.905,379.91,379.915,379.92,379.925,379.93,379.935,379.94,379.945,379.95,379.955],
        "tickSize": {"condition": {"test": "abs(datum.value*100-round(datum.value*100))<0.01", "value": 9}, "value": 5},
        "labelExpr": "abs(datum.value*100-round(datum.value*100))<0.01 ? format(datum.value,'.2f') : ''"}},
    "y": {"field": "y", "type": "quantitative", "scale": {"domain": [-0.0124, 0.1505], "nice": false, "zero": false},
      "axis": {"title": "OGS (Volts)", "labelOverlap": false, "tickCount": 100, "values": [0,0.01,0.02,0.03,0.04,0.05,0.06,0.07,0.08,0.09,0.1,0.11,0.12,0.13,0.14],
        "tickSize": {"condition": {"test": "abs(datum.value*50-round(datum.value*50))<0.01", "value": 9}, "value": 5},
        "labelExpr": "abs(datum.value*50-round(datum.value*50))<0.01 ? format(datum.value,'.2f') : ''"}}
   }},
  {"data": {"name": "b_core"}, "mark": {"type": "area", "color": "#000", "opacity": 1},
   "encoding": {"x": {"field": "x", "type": "quantitative"}, "y": {"field": "lo", "type": "quantitative"}, "y2": {"field": "hi"}}},
  {"data": {"name": "b_fit"}, "mark": {"type": "line", "color": "#ff1a1a", "strokeWidth": 1.5, "interpolate": "monotone"},
   "encoding": {"x": {"field": "x", "type": "quantitative"}, "y": {"field": "y", "type": "quantitative"}}},
  {"data": {"values": [{"x": 379.90422, "y": 0.1572, "t": "(b)"}]},
   "mark": {"type": "text", "align": "left", "baseline": "alphabetic", "font": "Lato", "fontSize": 28, "color": "#222"},
   "encoding": {"x": {"field": "x", "type": "quantitative"}, "y": {"field": "y", "type": "quantitative"}, "text": {"field": "t"}}},
  {"data": {"values": [{"x": 379.90267, "y": 0.1133, "t": "FWHM : 0.010"}]},
   "mark": {"type": "text", "align": "left", "baseline": "alphabetic", "font": "Liberation Sans", "fontSize": 24, "color": "#333"},
   "encoding": {"x": {"field": "x", "type": "quantitative"}, "y": {"field": "y", "type": "quantitative"}, "text": {"field": "t"}}}
 ]
},
{
 "width": 521, "height": 168,
 "layer": [
  {"data": {"name": "c_raw"}, "mark": {"type": "line", "color": "#000", "strokeWidth": 1.2},
   "encoding": {
    "x": {"field": "x", "type": "quantitative", "scale": {"domain": [415.86, 415.98736], "nice": false, "zero": false},
      "axis": {"title": "λ\u00a0\u00a0(nm)", "labelOverlap": false, "tickCount": 100, "values": [415.86,415.87,415.88,415.89,415.9,415.91,415.92,415.93,415.94,415.95,415.96,415.97,415.98],
        "tickSize": {"condition": {"test": "abs(datum.value*50-round(datum.value*50))<0.01", "value": 9}, "value": 5},
        "labelExpr": "abs(datum.value*50-round(datum.value*50))<0.01 ? format(datum.value,'.2f') : ''"}},
    "y": {"field": "y", "type": "quantitative", "scale": {"domain": [-0.0098, 0.1402], "nice": false, "zero": false},
      "axis": {"title": "OGS (Volts)", "labelOverlap": false, "tickCount": 100, "values": [0,0.01,0.02,0.03,0.04,0.05,0.06,0.07,0.08,0.09,0.1,0.11,0.12,0.13,0.14],
        "tickSize": {"condition": {"test": "abs(datum.value*50-round(datum.value*50))<0.01", "value": 9}, "value": 5},
        "labelExpr": "abs(datum.value*50-round(datum.value*50))<0.01 ? format(datum.value,'.2f') : ''"}}
   }},
  {"data": {"name": "c_core"}, "mark": {"type": "area", "color": "#000", "opacity": 1},
   "encoding": {"x": {"field": "x", "type": "quantitative"}, "y": {"field": "lo", "type": "quantitative"}, "y2": {"field": "hi"}}},
  {"data": {"name": "c_fit"}, "mark": {"type": "line", "color": "#ff1a1a", "strokeWidth": 1.5, "interpolate": "monotone"},
   "encoding": {"x": {"field": "x", "type": "quantitative"}, "y": {"field": "y", "type": "quantitative"}}},
  {"data": {"values": [{"x": 415.86416, "y": 0.1447, "t": "(c)"}]},
   "mark": {"type": "text", "align": "left", "baseline": "alphabetic", "font": "Lato", "fontSize": 28, "color": "#222"},
   "encoding": {"x": {"field": "x", "type": "quantitative"}, "y": {"field": "y", "type": "quantitative"}, "text": {"field": "t"}}},
  {"data": {"values": [{"x": 415.86293, "y": 0.1179, "t": "FWHM : 0.020"}]},
   "mark": {"type": "text", "align": "left", "baseline": "alphabetic", "font": "Liberation Sans", "fontSize": 24, "color": "#333"},
   "encoding": {"x": {"field": "x", "type": "quantitative"}, "y": {"field": "y", "type": "quantitative"}, "text": {"field": "t"}}}
 ]
},
{
 "width": 521, "height": 120,
 "data": {"name": "caption"},
 "layer": [
  {"transform": [{"filter": "datum.part == 'head'"}],
   "mark": {"type": "text", "align": "left", "baseline": "top", "font": "Liberation Serif", "fontSize": 20.3, "fontWeight": "bold", "color": "#231f20", "dx": -362},
   "encoding": {"x": {"datum": 0, "type": "quantitative", "scale": {"domain": [0, 1]}, "axis": null},
     "y": {"field": "line", "type": "ordinal", "scale": {"domain": [1, 2, 3, 4], "padding": 1}, "axis": null}, "text": {"field": "text"}}},
  {"transform": [{"filter": "datum.part == 'body' && datum.line == 1"}],
   "mark": {"type": "text", "align": "left", "baseline": "top", "font": "Liberation Serif", "fontSize": 20.3, "color": "#231f20", "dx": -279},
   "encoding": {"x": {"datum": 0, "type": "quantitative", "scale": {"domain": [0, 1]}, "axis": null},
     "y": {"field": "line", "type": "ordinal", "scale": {"domain": [1, 2, 3, 4], "padding": 1}, "axis": null}, "text": {"field": "text"}}},
  {"transform": [{"filter": "datum.line > 1"}],
   "mark": {"type": "text", "align": "left", "baseline": "top", "font": "Liberation Serif", "fontSize": 20.3, "color": "#231f20", "dx": -362},
   "encoding": {"x": {"datum": 0, "type": "quantitative", "scale": {"domain": [0, 1]}, "axis": null},
     "y": {"field": "line", "type": "ordinal", "scale": {"domain": [1, 2, 3, 4], "padding": 1}, "axis": null}, "text": {"field": "text"}}}
 ]
}
]
}
